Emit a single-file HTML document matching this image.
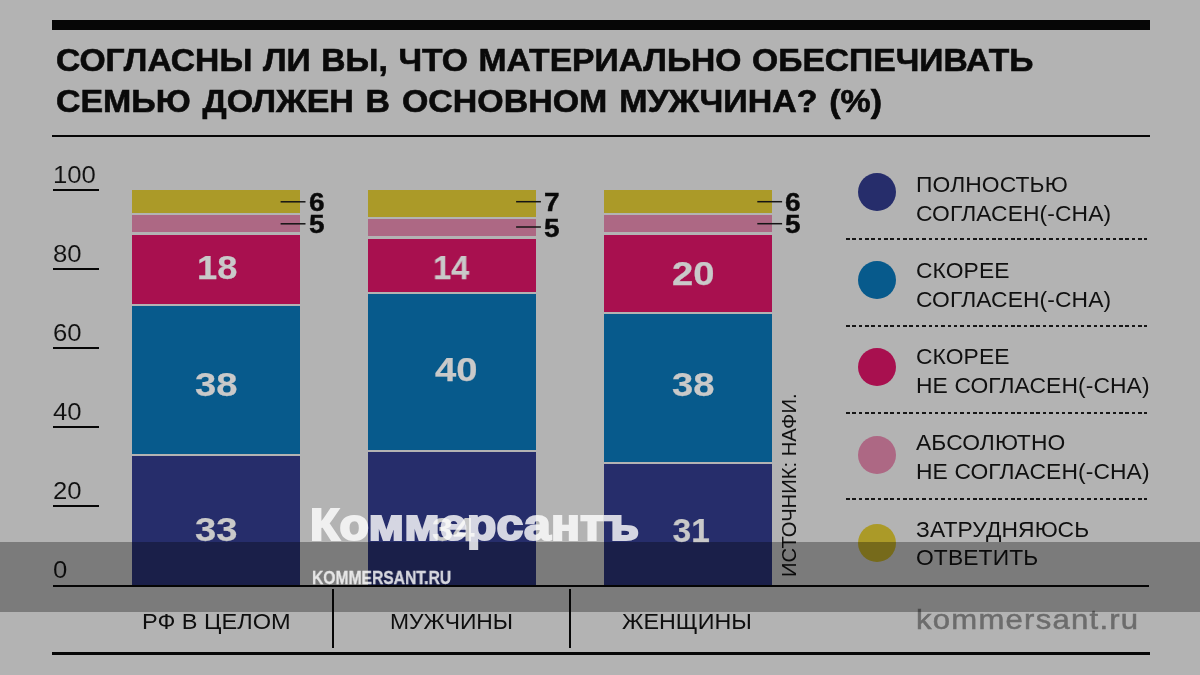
<!DOCTYPE html>
<html lang="ru">
<head>
<meta charset="utf-8">
<title>Chart</title>
<style>
  html, body { margin: 0; padding: 0; }
  body {
    width: 1200px; height: 675px; overflow: hidden; position: relative;
    background: #b3b3b3;
    font-family: "Liberation Sans", sans-serif;
    color: #0b0b0b;
  }
  .abs { position: absolute; }
  .blk { position: absolute; background: #060606; }
  .t { position: absolute; white-space: nowrap; line-height: 1; transform-origin: 0 50%; will-change: transform; }

  /* title */
  .title { left: 56.3px; font-weight: bold; font-size: 31.6px; color: #0a0a0a; -webkit-text-stroke: 0.6px #0a0a0a; }

  /* y axis */
  .yl { left: 52.7px; font-size: 24.5px; color: #111; transform: scaleX(1.05); -webkit-text-stroke: 0.1px #b3b3b3; }
  .tick { left: 53px; width: 46px; height: 2px; }

  /* bar segments */
  .seg { position: absolute; width: 168.2px; }
  .navy { background: #262d6b; }
  .blue { background: #075a8c; }
  .crim { background: #a8104f; }
  .pink { background: #ad6884; }
  .yell { background: #ab9a28; }

  /* numbers inside bars */
  .n { font-weight: bold; font-size: 33.5px; color: #c9c9c9; -webkit-text-stroke: 0.25px #c9c9c9; transform: scaleX(1.14); transform-origin: 50% 50%; text-align: center; width: 168.5px; }
  /* numbers outside bars */
  .o { font-weight: bold; font-size: 25px; color: #0a0a0a; -webkit-text-stroke: 0.4px #0a0a0a; transform: scaleX(1.12); transform-origin: 0 50%; }
  .lead { position: absolute; height: 1.4px; width: 25px; background: #141414; }

  /* x labels */
  .xl { font-size: 22px; color: #0e0e0e; }

  /* legend */
  .dot { position: absolute; width: 38px; height: 38px; border-radius: 50%; left: 857.5px; }
  .lg { left: 916.4px; font-size: 21.5px; letter-spacing: 0.1px; color: #101010; transform: scaleX(1.062); }
  .dash { position: absolute; left: 845.5px; width: 301px; height: 1.5px; background: repeating-linear-gradient(to right, #161616 0, #161616 3.5px, transparent 3.5px, transparent 6.35px); }

  .band { position: absolute; left: 0; top: 542px; width: 1200px; height: 70px; background: rgba(0,0,0,0.31); }
</style>
</head>
<body>

<!-- top rules and title -->
<div class="blk" style="left:52px; top:20px; width:1098px; height:10px;"></div>
<div class="t title" id="t1" style="top:44.6px; transform:scaleX(1.064); word-spacing:1.2px;">СОГЛАСНЫ ЛИ ВЫ, ЧТО МАТЕРИАЛЬНО ОБЕСПЕЧИВАТЬ</div>
<div class="t title" id="t2" style="top:85.6px; transform:scaleX(1.073); word-spacing:2.3px;">СЕМЬЮ ДОЛЖЕН В ОСНОВНОМ МУЖЧИНА? (%)</div>
<div class="blk" style="left:52px; top:135px; width:1098px; height:2px;"></div>

<!-- y axis -->
<div class="t yl" style="top:163.2px;">100</div>
<div class="blk tick" style="top:188.5px;"></div>
<div class="t yl" style="top:242.2px;">80</div>
<div class="blk tick" style="top:267.7px;"></div>
<div class="t yl" style="top:321.3px;">60</div>
<div class="blk tick" style="top:346.8px;"></div>
<div class="t yl" style="top:400.3px;">40</div>
<div class="blk tick" style="top:426px;"></div>
<div class="t yl" style="top:479.4px;">20</div>
<div class="blk tick" style="top:505.2px;"></div>
<div class="t yl" style="top:558.4px;">0</div>

<!-- bar 1 : 33 38 18 5 6 -->
<div class="seg yell" style="left:131.5px; top:190.3px; height:22.4px;"></div>
<div class="seg pink" style="left:131.5px; top:214.7px; height:17.8px;"></div>
<div class="seg crim" style="left:131.5px; top:234.5px; height:69.2px;"></div>
<div class="seg blue" style="left:131.5px; top:305.7px; height:148.3px;"></div>
<div class="seg navy" style="left:131.5px; top:456.0px; height:130.0px;"></div>

<!-- bar 2 : 34 40 14 5 7 -->
<div class="seg yell" style="left:367.5px; top:190.3px; height:26.4px;"></div>
<div class="seg pink" style="left:367.5px; top:218.7px; height:17.8px;"></div>
<div class="seg crim" style="left:367.5px; top:238.5px; height:53.4px;"></div>
<div class="seg blue" style="left:367.5px; top:293.8px; height:156.2px;"></div>
<div class="seg navy" style="left:367.5px; top:452.0px; height:134.0px;"></div>

<!-- bar 3 : 31 38 20 5 6 -->
<div class="seg yell" style="left:604px; top:190.3px; height:22.4px;"></div>
<div class="seg pink" style="left:604px; top:214.7px; height:17.8px;"></div>
<div class="seg crim" style="left:604px; top:234.5px; height:77.1px;"></div>
<div class="seg blue" style="left:604px; top:313.6px; height:148.3px;"></div>
<div class="seg navy" style="left:604px; top:463.9px; height:122.1px;"></div>

<!-- numbers in bars -->
<div class="t n" style="left:132.6px; top:251.2px; transform:scaleX(1.082);">18</div>
<div class="t n" style="left:132px; top:368.2px;">38</div>
<div class="t n" style="left:131.7px; top:513.4px;">33</div>
<div class="t n" style="left:367.2px; top:251.2px; transform:scaleX(0.965);">14</div>
<div class="t n" style="left:371.5px; top:352.8px;">40</div>
<div class="t n" style="left:369px; top:513.4px;">34</div>
<div class="t n" style="left:608.8px; top:256.5px;">20</div>
<div class="t n" style="left:608.5px; top:368.1px;">38</div>
<div class="t n" style="left:606.6px; top:513.6px; transform:scaleX(0.995);">31</div>

<!-- outside numbers with leaders -->
<svg class="abs" style="left:0; top:0;" width="1200" height="675" viewBox="0 0 1200 675">
  <g stroke="#141414" stroke-width="1.5" fill="none">
    <line x1="280.6" y1="201.8" x2="305.5" y2="201.8"/>
    <line x1="280.6" y1="223.8" x2="305.5" y2="223.8"/>
    <line x1="516.1" y1="201.7" x2="540.9" y2="201.7"/>
    <line x1="516.1" y1="227.0" x2="540.9" y2="227.0"/>
    <line x1="757.3" y1="201.7" x2="782.1" y2="201.7"/>
    <line x1="757.3" y1="223.7" x2="782.1" y2="223.7"/>
  </g>
</svg>
<div class="t o" style="left:308.7px; top:189.8px;">6</div>
<div class="t o" style="left:308.7px; top:212px;">5</div>

<div class="t o" style="left:544px; top:189.8px;">7</div>
<div class="t o" style="left:544px; top:215.6px;">5</div>

<div class="t o" style="left:784.9px; top:190px;">6</div>
<div class="t o" style="left:784.9px; top:212.2px;">5</div>

<!-- source (rotated) -->
<div class="t" id="src" style="left:778.6px; top:577.4px; font-size:20px; letter-spacing:0px; color:#111; transform: rotate(-90deg) scaleX(1.01); transform-origin: 0 0;">ИСТОЧНИК: НАФИ.</div>

<!-- axis line, x labels -->
<div class="blk" style="left:53px; top:585px; width:1096px; height:2px;"></div>
<div class="blk" style="left:331.5px; top:589px; width:2px; height:59px;"></div>
<div class="blk" style="left:569px; top:589px; width:2px; height:59px;"></div>
<div class="t xl" id="x1" style="margin-top:0.4px; left:142.4px; top:610.6px; transform:scaleX(1.07);">РФ В ЦЕЛОМ</div>
<div class="t xl" id="x2" style="margin-top:0.4px; left:390px; top:610.6px; transform:scaleX(1.039);">МУЖЧИНЫ</div>
<div class="t xl" id="x3" style="margin-top:0.4px; left:622.3px; top:610.6px; transform:scaleX(1.058);">ЖЕНЩИНЫ</div>
<div class="blk" style="left:52px; top:651.5px; width:1098px; height:3px;"></div>

<!-- legend -->
<div class="dot navy" style="top:173px;"></div>
<div class="t lg" style="top:175.1px;">ПОЛНОСТЬЮ</div>
<div class="t lg" style="top:203.6px;">СОГЛАСЕН(-СНА)</div>
<div class="dash" style="top:238.4px;"></div>

<div class="dot blue" style="top:260.5px;"></div>
<div class="t lg" style="top:261.1px;">СКОРЕЕ</div>
<div class="t lg" style="top:290.1px;">СОГЛАСЕН(-СНА)</div>
<div class="dash" style="top:325.1px;"></div>

<div class="dot crim" style="top:348px;"></div>
<div class="t lg" style="top:346.6px;">СКОРЕЕ</div>
<div class="t lg" style="top:375.6px;">НЕ СОГЛАСЕН(-СНА)</div>
<div class="dash" style="top:412px;"></div>

<div class="dot pink" style="top:435.5px;"></div>
<div class="t lg" style="top:433.1px;">АБСОЛЮТНО</div>
<div class="t lg" style="top:462.1px;">НЕ СОГЛАСЕН(-СНА)</div>
<div class="dash" style="top:498.3px;"></div>

<div class="dot yell" style="top:523.5px;"></div>
<div class="t lg" style="top:519.6px;">ЗАТРУДНЯЮСЬ</div>
<div class="t lg" style="top:548.1px;">ОТВЕТИТЬ</div>

<!-- kommersant.ru grey caption -->
<div class="t" id="kru" style="left:916px; top:606px; font-size:27.5px; letter-spacing:1.1px; color:#6c6c6c; -webkit-text-stroke:0.5px #6c6c6c; transform:scaleX(1.13);">kommersant.ru</div>

<!-- dark watermark band -->
<div class="band"></div>

<!-- watermark logo -->
<div class="t" id="logo" style="left:310.3px; top:503px; font-weight:bold; font-size:44px; color:#fff; -webkit-text-stroke:2.2px #fff; opacity:0.81; letter-spacing:0.2px; transform:scaleX(1.092);">Коммерсантъ</div>
<div class="t" id="logo2" style="left:312.3px; top:568.6px; font-weight:bold; font-size:18.5px; color:#fff; -webkit-text-stroke:0.35px #fff; opacity:0.82; transform: scaleX(0.846);">KOMMERSANT.RU</div>

</body>
</html>
